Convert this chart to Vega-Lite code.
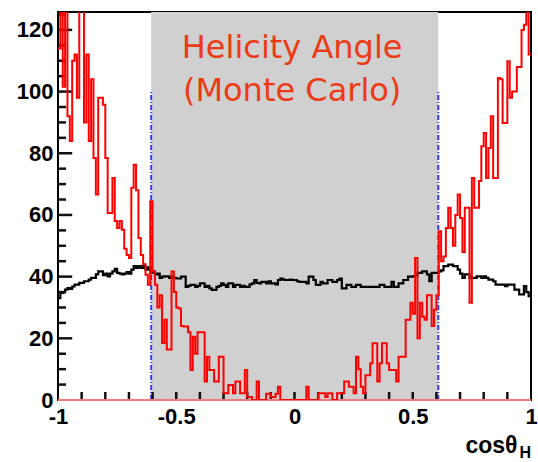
{
  "$schema": "https://vega.github.io/schema/vega-lite/v6.json",
  "width": 473,
  "height": 388,
  "autosize": {"type": "none"},
  "padding": {"left": 58, "top": 12, "right": 7, "bottom": 62},
  "background": "white",
  "config": {
    "view": {"stroke": "black", "strokeWidth": 2},
    "axis": {
      "labelFont": "Liberation Sans", "labelFontWeight": "bold", "labelFontSize": 22, "labelColor": "black",
      "ticks": false, "domain": false, "grid": false,
      "titleFont": "Liberation Sans", "titleFontWeight": "bold", "titleFontSize": 23, "titleColor": "black",
      "labelFlush": false, "labelOverlap": false
    }
  },
  "datasets": {
    "band": [{"x1": -0.606, "x2": 0.608}],
    "cuts": [{"x": -0.606}, {"x": 0.608}],
    "hist": [
      {"x":-1,"r":114,"b":33},{"x":-0.99,"r":128,"b":34.7},{"x":-0.98,"r":101.6,"b":35},{"x":-0.97,"r":128,"b":35.8},{"x":-0.96,"r":92,"b":36.3},
      {"x":-0.95,"r":84,"b":36},{"x":-0.94,"r":110,"b":36.8},{"x":-0.93,"r":112,"b":37.4},{"x":-0.92,"r":98,"b":37.4},{"x":-0.91,"r":128,"b":38},
      {"x":-0.9,"r":128,"b":38},{"x":-0.89,"r":90,"b":38.5},{"x":-0.88,"r":112,"b":38.5},{"x":-0.87,"r":84,"b":39},{"x":-0.86,"r":104,"b":39.6},
      {"x":-0.85,"r":78.5,"b":39.6},{"x":-0.84,"r":66.6,"b":40.7},{"x":-0.83,"r":98,"b":41.7},{"x":-0.82,"r":98,"b":41.7},{"x":-0.81,"r":95.7,"b":40.5},
      {"x":-0.8,"r":78.5,"b":41},{"x":-0.79,"r":60.6,"b":40.1},{"x":-0.78,"r":60.6,"b":41},{"x":-0.77,"r":72,"b":41.7},{"x":-0.76,"r":58,"b":42.5},
      {"x":-0.75,"r":55.8,"b":41.2},{"x":-0.74,"r":58,"b":41},{"x":-0.73,"r":55.2,"b":40.7},{"x":-0.72,"r":49,"b":41},{"x":-0.71,"r":47,"b":41.5},
      {"x":-0.7,"r":46,"b":41},{"x":-0.69,"r":68.8,"b":42.3},{"x":-0.68,"r":76.3,"b":43.4},{"x":-0.67,"r":68,"b":42.8},{"x":-0.66,"r":52.5,"b":43.4},
      {"x":-0.65,"r":47,"b":42.8},{"x":-0.64,"r":44,"b":43.4},{"x":-0.63,"r":40.6,"b":42.3},{"x":-0.62,"r":37.4,"b":43},{"x":-0.61,"r":64.4,"b":41.2},
      {"x":-0.6,"r":41.7,"b":41.7},{"x":-0.59,"r":37.4,"b":40.7},{"x":-0.58,"r":30,"b":41},{"x":-0.57,"r":34,"b":39.6},{"x":-0.56,"r":18.5,"b":40},
      {"x":-0.55,"r":26,"b":40.1},{"x":-0.54,"r":16.4,"b":40.1},{"x":-0.53,"r":16.4,"b":39.6},{"x":-0.52,"r":41.7,"b":40},{"x":-0.51,"r":35,"b":39.6},
      {"x":-0.5,"r":30,"b":39.4},{"x":-0.49,"r":29.7,"b":39.4},{"x":-0.48,"r":24,"b":40},{"x":-0.47,"r":23.8,"b":40},{"x":-0.46,"r":23.8,"b":36.7},
      {"x":-0.45,"r":22,"b":37},{"x":-0.44,"r":9.7,"b":37.3},{"x":-0.43,"r":20.5,"b":37.3},{"x":-0.42,"r":15,"b":36.7},{"x":-0.41,"r":22,"b":37},
      {"x":-0.4,"r":22,"b":37.8},{"x":-0.39,"r":22,"b":37.8},{"x":-0.38,"r":6,"b":36.7},{"x":-0.37,"r":14,"b":37},{"x":-0.36,"r":9.7,"b":36.2},
      {"x":-0.35,"r":9.7,"b":35.7},{"x":-0.34,"r":6,"b":35.7},{"x":-0.33,"r":6,"b":36.7},{"x":-0.32,"r":14,"b":37},{"x":-0.31,"r":14,"b":37.8},
      {"x":-0.3,"r":2.2,"b":37.3},{"x":-0.29,"r":2.2,"b":36.7},{"x":-0.28,"r":4.9,"b":37.8},{"x":-0.27,"r":4.9,"b":37.8},{"x":-0.26,"r":2.2,"b":36.7},
      {"x":-0.25,"r":6,"b":37.3},{"x":-0.24,"r":6,"b":37.3},{"x":-0.23,"r":2.2,"b":36.7},{"x":-0.22,"r":2.2,"b":37},{"x":-0.21,"r":9.7,"b":36.7},
      {"x":-0.2,"r":1,"b":36.7},{"x":-0.19,"r":1,"b":37.5},{"x":-0.18,"r":0,"b":37.8},{"x":-0.17,"r":0,"b":38.9},{"x":-0.16,"r":6,"b":38},
      {"x":-0.15,"r":0,"b":37.8},{"x":-0.14,"r":0,"b":38.3},{"x":-0.13,"r":0,"b":38.3},{"x":-0.12,"r":2,"b":37.8},{"x":-0.11,"r":2,"b":38.5},
      {"x":-0.1,"r":1,"b":37.8},{"x":-0.09,"r":1,"b":37.8},{"x":-0.08,"r":2,"b":37.5},{"x":-0.07,"r":4.3,"b":38.9},{"x":-0.06,"r":0,"b":39.4},
      {"x":-0.05,"r":0,"b":39},{"x":-0.04,"r":0,"b":38.9},{"x":-0.03,"r":0,"b":38.9},{"x":-0.02,"r":0,"b":39},{"x":-0.01,"r":0,"b":38.9},
      {"x":0,"r":0,"b":38.9},{"x":0.01,"r":0,"b":38.5},{"x":0.02,"r":0,"b":38.3},{"x":0.03,"r":0,"b":38.3},{"x":0.04,"r":0,"b":38.3},
      {"x":0.05,"r":4.3,"b":37.8},{"x":0.06,"r":0,"b":40},{"x":0.07,"r":0,"b":40},{"x":0.08,"r":0,"b":38.9},{"x":0.09,"r":0,"b":37.3},
      {"x":0.1,"r":2.2,"b":37.3},{"x":0.11,"r":2.2,"b":38.3},{"x":0.12,"r":2.2,"b":37.8},{"x":0.13,"r":1,"b":37.8},{"x":0.14,"r":2.2,"b":38.9},
      {"x":0.15,"r":2.2,"b":38.9},{"x":0.16,"r":0,"b":38.3},{"x":0.17,"r":0,"b":38.3},{"x":0.18,"r":2.2,"b":38.9},{"x":0.19,"r":2.2,"b":39.4},
      {"x":0.2,"r":2.2,"b":36.2},{"x":0.21,"r":6,"b":36.2},{"x":0.22,"r":6,"b":37.3},{"x":0.23,"r":4.3,"b":37.3},{"x":0.24,"r":4.3,"b":36.7},
      {"x":0.25,"r":2.2,"b":36.7},{"x":0.26,"r":14,"b":37.3},{"x":0.27,"r":10,"b":37.3},{"x":0.28,"r":4.3,"b":36.7},{"x":0.29,"r":2.2,"b":36.7},
      {"x":0.3,"r":8,"b":36.7},{"x":0.31,"r":8,"b":36.7},{"x":0.32,"r":11.9,"b":36.7},{"x":0.33,"r":18.4,"b":36.7},{"x":0.34,"r":18.4,"b":36.7},
      {"x":0.35,"r":6,"b":36.7},{"x":0.36,"r":11.9,"b":37.3},{"x":0.37,"r":18.4,"b":37.3},{"x":0.38,"r":18.4,"b":36.7},{"x":0.39,"r":11.9,"b":36.7},
      {"x":0.4,"r":9.7,"b":36.7},{"x":0.41,"r":9.7,"b":38.3},{"x":0.42,"r":9.7,"b":36.7},{"x":0.43,"r":6,"b":36.7},{"x":0.44,"r":14,"b":37.8},
      {"x":0.45,"r":14,"b":37.8},{"x":0.46,"r":14,"b":38.9},{"x":0.47,"r":26,"b":38.9},{"x":0.48,"r":26,"b":40},{"x":0.49,"r":31.5,"b":40},
      {"x":0.5,"r":28,"b":40.1},{"x":0.51,"r":46,"b":40.5},{"x":0.52,"r":20,"b":41.2},{"x":0.53,"r":31.5,"b":41.2},{"x":0.54,"r":27,"b":41.7},
      {"x":0.55,"r":26,"b":41.7},{"x":0.56,"r":34,"b":40.7},{"x":0.57,"r":34,"b":38.5},{"x":0.58,"r":24,"b":41.2},{"x":0.59,"r":29.3,"b":41.2},
      {"x":0.6,"r":34,"b":41.2},{"x":0.61,"r":54.7,"b":41.7},{"x":0.62,"r":45,"b":42},{"x":0.63,"r":46.5,"b":43.4},{"x":0.64,"r":55.8,"b":43.4},
      {"x":0.65,"r":62.3,"b":43.9},{"x":0.66,"r":55.8,"b":43.9},{"x":0.67,"r":50,"b":43.4},{"x":0.68,"r":60,"b":43.4},{"x":0.69,"r":66.6,"b":42.3},
      {"x":0.7,"r":59,"b":41},{"x":0.71,"r":48,"b":39.6},{"x":0.72,"r":62.3,"b":40.7},{"x":0.73,"r":62.3,"b":40.7},{"x":0.74,"r":31.5,"b":39.6},
      {"x":0.75,"r":72,"b":39.6},{"x":0.76,"r":62.3,"b":39.6},{"x":0.77,"r":62.3,"b":40.1},{"x":0.78,"r":71,"b":40.1},{"x":0.79,"r":82.3,"b":39.6},
      {"x":0.8,"r":86.6,"b":40.1},{"x":0.81,"r":72,"b":39.6},{"x":0.82,"r":81.7,"b":39},{"x":0.83,"r":92,"b":39},{"x":0.84,"r":72,"b":38.5},
      {"x":0.85,"r":72,"b":37.4},{"x":0.86,"r":104.4,"b":37.4},{"x":0.87,"r":104,"b":37.4},{"x":0.88,"r":89.8,"b":37.4},{"x":0.89,"r":89.8,"b":36.9},
      {"x":0.9,"r":109.8,"b":37.4},{"x":0.91,"r":98,"b":37.4},{"x":0.92,"r":100,"b":37.4},{"x":0.93,"r":100,"b":35.8},{"x":0.94,"r":108,"b":35.8},
      {"x":0.95,"r":108,"b":34.2},{"x":0.96,"r":120,"b":34.2},{"x":0.97,"r":121.7,"b":36.9},{"x":0.98,"r":128,"b":35},{"x":0.99,"r":112,"b":33.7},
      {"x":1,"r":112,"b":33.7}
    ]
  },
  "layer": [
    {
      "data": {"name": "band"},
      "mark": {"type": "rect", "fill": "#d0d0d0"},
      "encoding": {
        "x": {"field": "x1", "type": "quantitative",
          "scale": {"domain": [-1, 1], "nice": false, "zero": false},
          "axis": {
            "values": [-1,-0.5,0,0.5,1],
            "labelExpr": "round(datum.value*10)==-10?'-1':round(datum.value*10)==-5?'-0.5':round(datum.value*10)==0?'0':round(datum.value*10)==5?'0.5':'1'",
            "labelPadding": 6,
            "title": "cosθ", "titleAnchor": "end", "titleAlign": "right", "titleBaseline": "alphabetic",
            "titleX": 459, "titleY": 52
          }
        },
        "x2": {"field": "x2"}
      }
    },
    {
      "data": {"name": "hist"},
      "mark": {"type": "line", "interpolate": "step-after", "color": "black", "strokeWidth": 2.2, "clip": true},
      "encoding": {
        "x": {"field": "x", "type": "quantitative", "scale": {"domain": [-1, 1], "nice": false, "zero": false}, "axis": null},
        "y": {"field": "b", "type": "quantitative", "scale": {"domain": [0, 125.8], "nice": false, "zero": false},
          "axis": {"values": [0,20,40,60,80,100,120], "labelPadding": 5, "title": null, "orient": "left"}
        }
      }
    },
    {
      "data": {"name": "cuts"},
      "mark": {"type": "rule", "color": "#2f3cf0", "strokeWidth": 2, "strokeDash": [5, 2, 1, 2]},
      "encoding": {
        "x": {"field": "x", "type": "quantitative", "scale": {"domain": [-1, 1], "nice": false, "zero": false}, "axis": null},
        "y": {"datum": 0, "type": "quantitative", "scale": {"domain": [0, 125.8], "nice": false, "zero": false}, "axis": null},
        "y2": {"datum": 100}
      }
    },
    {
      "data": {"values": [{"tick": -0.9},{"tick": -0.8},{"tick": -0.7},{"tick": -0.6},{"tick": -0.5},{"tick": -0.4},{"tick": -0.3},{"tick": -0.2},{"tick": -0.1},{"tick": 0},{"tick": 0.1},{"tick": 0.2},{"tick": 0.3},{"tick": 0.4},{"tick": 0.5},{"tick": 0.6},{"tick": 0.7},{"tick": 0.8},{"tick": 0.9}]},
      "mark": {"type": "rule", "color": "#111111", "strokeWidth": 2.5},
      "encoding": {
        "x": {"field": "tick", "type": "quantitative", "scale": {"domain": [-1, 1], "nice": false, "zero": false}, "axis": null},
        "y": {"datum": 0, "type": "quantitative", "scale": {"domain": [0, 125.8], "nice": false, "zero": false}, "axis": null},
        "y2": {"datum": 2.6}
      }
    },
    {
      "data": {"values": [{"tick": 5},{"tick": 10},{"tick": 15},{"tick": 25},{"tick": 30},{"tick": 35},{"tick": 45},{"tick": 50},{"tick": 55},{"tick": 65},{"tick": 70},{"tick": 75},{"tick": 85},{"tick": 90},{"tick": 95},{"tick": 105},{"tick": 110},{"tick": 115},{"tick": 125}]},
      "mark": {"type": "rule", "color": "#111111", "strokeWidth": 2.5},
      "encoding": {
        "y": {"field": "tick", "type": "quantitative", "scale": {"domain": [0, 125.8], "nice": false, "zero": false}, "axis": null},
        "x": {"datum": -1, "type": "quantitative", "scale": {"domain": [-1, 1], "nice": false, "zero": false}, "axis": null},
        "x2": {"datum": -0.966}
      }
    },
    {
      "data": {"values": [{"tick": 20},{"tick": 40},{"tick": 60},{"tick": 80},{"tick": 100},{"tick": 120}]},
      "mark": {"type": "rule", "color": "#111111", "strokeWidth": 2.5},
      "encoding": {
        "y": {"field": "tick", "type": "quantitative", "scale": {"domain": [0, 125.8], "nice": false, "zero": false}, "axis": null},
        "x": {"datum": -1, "type": "quantitative", "scale": {"domain": [-1, 1], "nice": false, "zero": false}, "axis": null},
        "x2": {"datum": -0.94}
      }
    },
    {
      "data": {"values": [{}]},
      "mark": {"type": "rule", "color": "#f27a7a", "strokeWidth": 2},
      "encoding": {
        "y": {"datum": 0, "type": "quantitative", "scale": {"domain": [0, 125.8], "nice": false, "zero": false}, "axis": null}
      }
    },
    {
      "data": {"name": "hist"},
      "mark": {"type": "line", "interpolate": "step-after", "color": "#ff0000", "strokeWidth": 2, "clip": true},
      "encoding": {
        "x": {"field": "x", "type": "quantitative", "scale": {"domain": [-1, 1], "nice": false, "zero": false}, "axis": null},
        "y": {"field": "r", "type": "quantitative", "scale": {"domain": [0, 125.8], "nice": false, "zero": false}, "axis": null}
      }
    },
    {
      "data": {"values": [{}]},
      "mark": {"type": "text", "text": ["Helicity Angle", "(Monte Carlo)"], "font": "DejaVu Sans", "fontSize": 32, "color": "#ec3b14", "align": "center", "baseline": "alphabetic", "lineHeight": 43.5},
      "encoding": {
        "x": {"datum": -0.01, "type": "quantitative", "scale": {"domain": [-1, 1], "nice": false, "zero": false}, "axis": null},
        "y": {"datum": 111, "type": "quantitative", "scale": {"domain": [0, 125.8], "nice": false, "zero": false}, "axis": null}
      }
    },
    {
      "data": {"values": [{}]},
      "mark": {"type": "text", "text": "H", "font": "Liberation Sans", "fontWeight": "bold", "fontSize": 16, "color": "black", "align": "right", "baseline": "alphabetic", "dy": 58},
      "encoding": {
        "x": {"datum": 1, "type": "quantitative", "scale": {"domain": [-1, 1], "nice": false, "zero": false}, "axis": null},
        "y": {"datum": 0, "type": "quantitative", "scale": {"domain": [0, 125.8], "nice": false, "zero": false}, "axis": null}
      }
    }
  ],
  "resolve": {"axis": {"y": "independent", "x": "independent"}}
}
